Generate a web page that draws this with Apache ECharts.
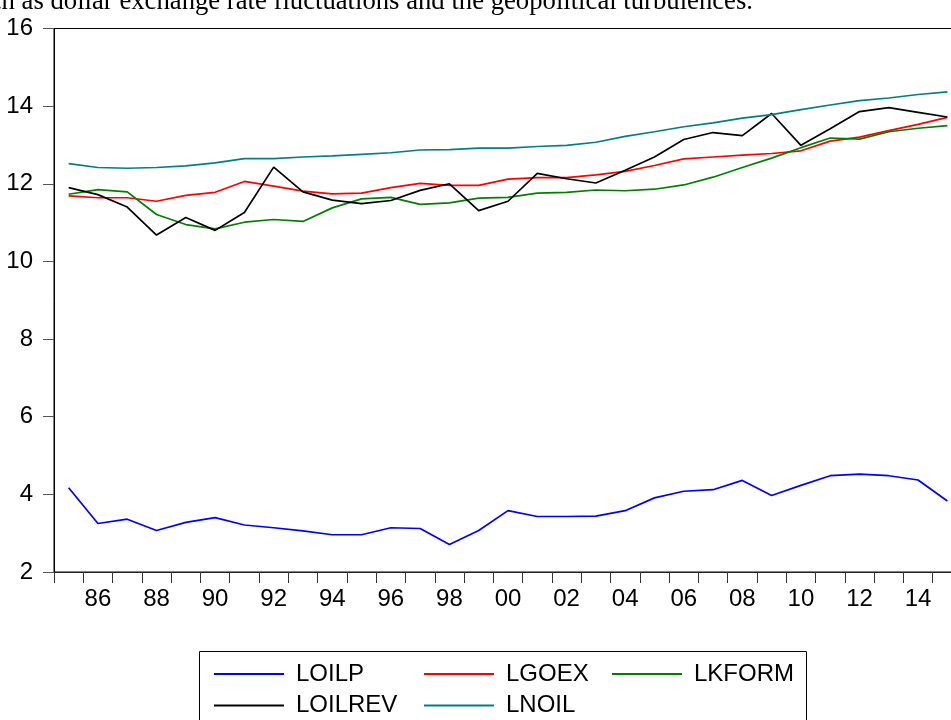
<!DOCTYPE html>
<html>
<head>
<meta charset="utf-8">
<script src="https://cdn.jsdelivr.net/npm/echarts@6/dist/echarts.min.js"></script>
<style>
html,body{margin:0;padding:0;background:#fff;}
#chart{width:951px;height:720px;}
</style>
</head>
<body>
<div id="chart"></div>
<script>
var years = ['1985','1986','1987','1988','1989','1990','1991','1992','1993','1994','1995','1996','1997','1998','1999','2000','2001','2002','2003','2004','2005','2006','2007','2008','2009','2010','2011','2012','2013','2014','2015'];
var yTicks = [2, 16, 2]; // min, max, interval
var LOILP = [4.17,3.25,3.36,3.07,3.28,3.40,3.21,3.14,3.06,2.96,2.96,3.14,3.12,2.71,3.07,3.58,3.43,3.43,3.44,3.58,3.91,4.08,4.12,4.36,3.97,4.23,4.48,4.52,4.48,4.37,3.83];
var LGOEX = [11.69,11.64,11.64,11.55,11.70,11.78,12.06,11.94,11.81,11.74,11.76,11.90,12.01,11.96,11.96,12.12,12.16,12.16,12.23,12.32,12.47,12.64,12.69,12.74,12.78,12.85,13.10,13.20,13.37,13.53,13.71];
var LKFORM = [11.73,11.85,11.79,11.21,10.95,10.84,11.01,11.08,11.03,11.38,11.61,11.65,11.47,11.51,11.63,11.65,11.76,11.78,11.84,11.82,11.86,11.97,12.17,12.42,12.66,12.93,13.18,13.15,13.34,13.43,13.50];
var LOILREV = [11.90,11.72,11.40,10.68,11.13,10.80,11.26,12.43,11.79,11.58,11.49,11.57,11.83,12.00,11.31,11.55,12.27,12.13,12.02,12.35,12.69,13.14,13.32,13.24,13.81,12.99,13.42,13.86,13.96,13.84,13.72];
var LNOIL = [12.52,12.42,12.40,12.42,12.46,12.54,12.65,12.65,12.69,12.72,12.76,12.80,12.87,12.88,12.92,12.92,12.96,12.99,13.07,13.22,13.34,13.47,13.57,13.69,13.78,13.91,14.03,14.14,14.21,14.30,14.37];
var seriesNames = ['LOILP','LGOEX','LKFORM','LOILREV','LNOIL'];
var seriesColors = ['#0000FF','#FF0000','#008000','#000000','#008080'];
var seriesData = [LOILP, LGOEX, LKFORM, LOILREV, LNOIL];
var captionText = 'such as dollar exchange rate fluctuations and the geopolitical turbulences.';

var FONT = '"Liberation Sans", Arial, sans-serif';
var chart = echarts.init(document.getElementById('chart'), null, {renderer:'canvas'});

function mkLegend(name, left, top) {
  return {
    data: [name], left: left, top: top, padding: 0,
    icon: 'rect', itemWidth: 70, itemHeight: 2,
    textStyle: {fontFamily: FONT, fontSize: 24, color: '#000', padding: [0,0,4,7]},
    selectedMode: false
  };
}

var option = {
  backgroundColor: '#fff',
  animation: false,
  grid: {left: 54, top: 28.5, width: 908, height: 543.5, show: true, borderColor: '#000', borderWidth: 1, backgroundColor: 'transparent', outerBoundsMode: 'none', containLabel: false},
  legend: [
    mkLegend('LOILP', 214, 662),
    mkLegend('LOILREV', 214, 693.5),
    mkLegend('LGOEX', 424, 662),
    mkLegend('LNOIL', 424, 693.5),
    mkLegend('LKFORM', 612, 662)
  ],
  graphic: [
    {type: 'rect', shape: {x: 199.5, y: 651.5, width: 607, height: 120}, style: {fill: 'none', stroke: '#000', lineWidth: 1}, silent: true},
    {type: 'text', x: 753, y: 15, style: {text: captionText, font: '26.7px "Liberation Serif", "Times New Roman", serif', fill: '#000', align: 'right', verticalAlign: 'bottom'}, silent: true}
  ],
  xAxis: {
    type: 'category', data: years, boundaryGap: true,
    axisLine: {show: true, lineStyle: {color: '#222', width: 1}},
    axisTick: {show: true, interval: 0, length: 11, inside: false, lineStyle: {color: '#333'}},
    axisLabel: {
      interval: function (i) { return i % 2 === 1; },
      formatter: function (v) { return v.slice(2); },
      fontFamily: FONT, fontSize: 24, color: '#000', margin: 15
    },
    splitLine: {show: false}
  },
  yAxis: {
    type: 'value', min: yTicks[0], max: yTicks[1], interval: yTicks[2],
    axisLine: {show: true, lineStyle: {color: '#000', width: 1}},
    axisTick: {show: true, length: 11, inside: false, lineStyle: {color: '#555'}},
    axisLabel: {fontFamily: FONT, fontSize: 24, color: '#000', margin: 21, padding: [0,0,20,0]},
    splitLine: {show: false}
  },
  series: seriesNames.map(function (n, i) {
    return {
      name: n, type: 'line', data: seriesData[i], symbol: 'none', smooth: false,
      lineStyle: {color: seriesColors[i], width: 1.7},
      itemStyle: {color: seriesColors[i]}
    };
  })
};
chart.setOption(option);
</script>
</body>
</html>
